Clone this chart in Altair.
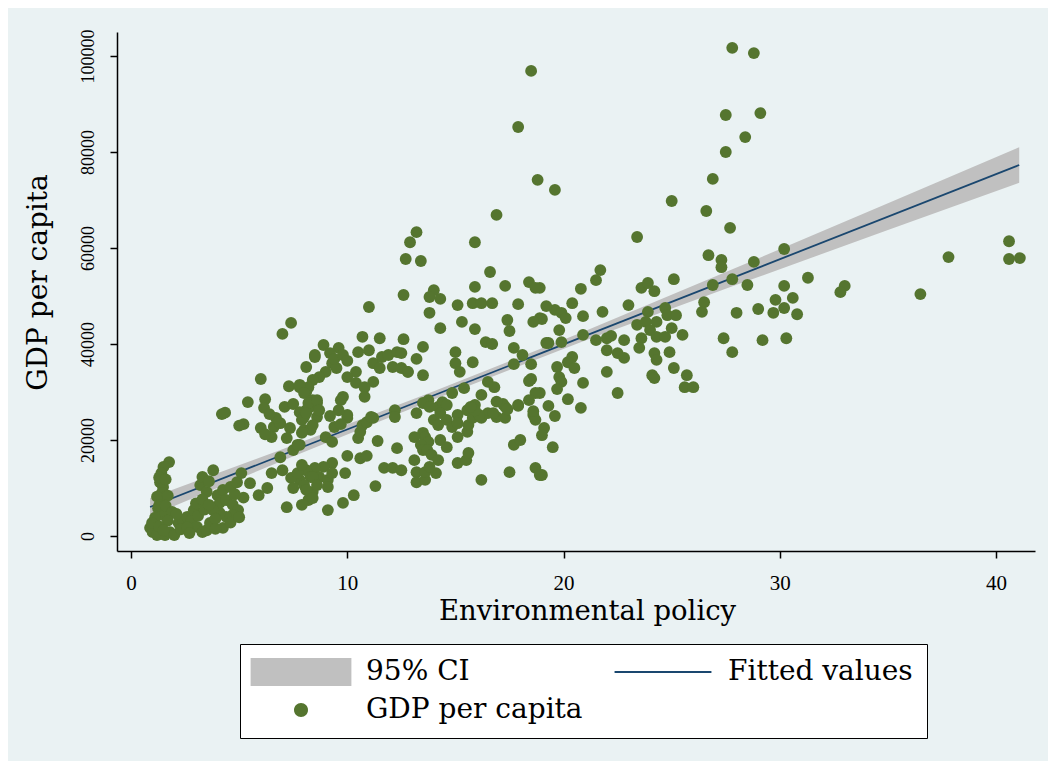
import altair as alt
import pandas as pd

# ---------------- data ----------------
# (environmental policy, GDP per capita)
top_and_right = [
    (27.8, 101700), (28.8, 100600), (18.5, 96900), (17.9, 85200), (27.5, 87700), (29.1, 88100),
    (28.4, 83100), (27.5, 80000), (18.8, 74200), (19.6, 72100), (26.9, 74400), (25.0, 69800),
    (26.6, 67700), (27.7, 64200), (16.9, 66900), (15.9, 61200), (23.4, 62300), (26.7, 58500),
    (27.3, 57500), (27.3, 56000), (28.8, 57100), (30.2, 59800), (13.2, 63300), (12.9, 61200),
    (12.7, 57700), (13.4, 57300), (30.2, 52100), (31.3, 53800), (30.6, 49600), (30.2, 47500),
    (30.8, 46200), (30.3, 41200), (33.0, 52100), (32.8, 50800), (36.5, 50400), (37.8, 58100),
    (40.6, 61400), (40.6, 57700), (41.1, 57900), (25.1, 53500), (26.9, 52300), (27.8, 53500),
    (28.5, 52300), (26.5, 48700), (26.4, 46700), (28.0, 46500), (29.0, 47300), (29.8, 49200),
    (29.7, 46500), (27.4, 41200), (27.8, 38300), (29.2, 40800), (25.5, 41900), (25.7, 33500),
    (25.6, 31000), (26.0, 31000),
]
upper_mid = [
    (16.6, 55000), (21.7, 55400), (21.5, 53300), (20.8, 51500), (20.4, 48500), (18.9, 51700),
    (23.6, 51700), (23.9, 52700), (24.2, 51000), (23.0, 48100), (21.8, 46700), (20.9, 45800),
    (19.6, 47100), (19.9, 46500), (20.1, 45400), (18.9, 45400), (23.9, 46700), (24.7, 47500),
    (24.8, 46000), (25.2, 46000), (23.4, 44000), (23.8, 44600), (24.3, 44600), (24.0, 42900),
    (23.6, 41200), (23.5, 39200), (24.3, 41500), (24.7, 41500), (25.0, 43300), (24.2, 38100),
    (24.3, 36700), (24.9, 38300), (25.1, 35000), (24.1, 33500), (24.2, 32900), (22.5, 29800),
    (19.8, 42900), (19.9, 40400), (19.3, 40200), (20.9, 41900), (21.5, 40800), (22.0, 41200),
    (22.2, 41700), (22.8, 40800), (22.0, 38700), (22.5, 38100), (22.8, 37100), (22.0, 34200),
    (20.4, 37300), (20.2, 36200), (20.5, 35000), (19.7, 35200), (19.8, 33100), (19.9, 32100),
    (19.7, 30600), (20.9, 31900), (20.2, 28500), (20.8, 26700), (19.3, 27100), (19.6, 25000),
    (19.1, 22500), (19.0, 21000), (19.5, 18500), (19.0, 12700), (18.9, 29800),
]
center_band = [
    (11.0, 47700), (12.6, 50200), (15.9, 51900), (17.3, 52100), (18.4, 52900), (18.7, 51700),
    (14.0, 51200), (13.8, 49800), (14.3, 49400), (15.1, 48100), (15.8, 48500), (16.2, 48500),
    (16.7, 48500), (17.9, 48300), (13.8, 46500), (15.3, 44600), (17.4, 45000), (17.5, 42700),
    (19.2, 47900), (19.0, 45200), (18.6, 44600), (14.3, 43300), (15.9, 43100), (16.4, 40400),
    (16.7, 40000), (17.7, 39200), (15.0, 38300), (15.8, 36200), (15.0, 36000), (15.2, 34200),
    (15.4, 30800), (17.7, 35800), (18.1, 37700), (18.5, 35800), (18.5, 32700), (18.4, 32300),
    (19.2, 40200), (18.7, 29800), (17.9, 27300), (16.2, 29400), (16.5, 32100), (16.8, 31000),
    (13.5, 39400), (13.2, 36900), (13.5, 33500), (12.8, 34200), (12.6, 41000), (11.5, 41200),
    (10.7, 41500), (10.5, 38300), (11.0, 38700), (11.2, 36000), (11.6, 37300), (11.9, 37700),
    (12.3, 38300), (12.5, 38100), (11.5, 35000), (12.1, 35200), (12.5, 35000), (12.8, 34200),
    (11.2, 32100), (10.4, 34200), (10.0, 33100), (10.4, 31900), (10.8, 31000), (10.8, 29000),
    (9.8, 29000), (9.7, 28300),
]
left_mid = [
    (7.4, 44400), (7.0, 42100), (8.1, 35200), (8.5, 37300), (6.0, 32700), (7.3, 31200),
    (7.8, 31000), (8.1, 30000), (9.6, 39200), (8.9, 39800), (8.5, 37700), (9.2, 38100),
    (9.3, 36000), (9.5, 35000), (9.0, 34200), (8.7, 33100), (8.4, 32500), (8.2, 31000),
    (7.8, 31500), (8.0, 29800), (8.4, 28300), (8.6, 27700), (8.1, 26200), (5.4, 27900),
    (6.2, 28500), (6.15, 26700), (7.1, 26900), (7.5, 27500), (7.8, 25800), (8.0, 24800),
    (8.3, 26900), (8.2, 27700), (8.6, 28300), (9.4, 36900), (9.8, 37700), (10.0, 36500),
]
left_low = [
    (4.2, 25400), (4.35, 25700), (5.2, 23300), (5.0, 23000), (6.0, 22500), (6.6, 22700),
    (6.9, 23500), (7.35, 22500), (8.0, 22100), (7.9, 24200), (8.1, 25600), (8.6, 24800),
    (8.7, 26200), (8.3, 22100), (7.9, 21500), (7.8, 19000), (8.4, 23100), (9.0, 20600),
    (9.3, 19600), (9.4, 22700), (10.0, 24600), (10.0, 25200), (6.9, 16400), (7.5, 17900),
    (7.7, 19000), (6.5, 20600), (6.2, 21200), (7.2, 20400), (6.7, 24600), (6.4, 25400),
    (9.6, 26200), (9.2, 25000), (9.7, 23300),
]
middle_low = [
    (10.5, 20400), (10.6, 21700), (10.7, 23100), (10.9, 23700), (11.2, 24600), (11.4, 19800),
    (12.2, 26200), (12.2, 24800), (13.2, 25600), (12.3, 18300), (10.0, 16700), (10.6, 16200),
    (10.9, 16700), (11.7, 14200), (12.1, 14200), (12.5, 13700), (9.9, 13100), (11.1, 24800),
    (13.75, 28300), (14.2, 26900), (14.4, 27900), (14.85, 29800), (14.6, 27300), (15.1, 25200),
    (15.55, 26200), (15.9, 27300), (16.2, 24600), (16.5, 25600), (16.9, 24800), (17.3, 24600),
    (17.3, 26900), (16.75, 25600), (13.5, 27700), (13.8, 26900), (14.0, 24200), (14.3, 25600),
    (13.5, 21500), (13.6, 20600), (13.75, 19600), (15.1, 20600), (15.55, 21700), (15.6, 23100),
    (14.2, 23100), (14.6, 24200), (14.85, 22700), (15.1, 23500), (15.8, 24600), (16.1, 25200),
    (15.9, 26200), (15.7, 26900), (13.1, 20600), (13.4, 19000), (13.5, 17900), (13.1, 15800),
    (13.2, 13300), (13.2, 11200), (13.6, 11700), (13.6, 13300), (13.7, 17900), (13.9, 16900),
    (14.2, 15800), (14.1, 13100), (13.8, 14400), (14.3, 20000), (14.6, 18500), (15.1, 15200),
    (15.5, 15800), (15.6, 17300), (16.2, 11700), (17.5, 13300), (18.7, 14200), (18.9, 12700),
    (17.7, 19000), (18.0, 20000), (18.6, 25200), (18.7, 24200), (17.9, 27100), (18.4, 28300),
    (18.6, 26000), (17.2, 27500), (17.4, 26400), (16.9, 28000),
]
low_band = [
    (9.3, 15200), (8.9, 14400), (8.5, 14200), (8.1, 13700), (8.3, 12300), (8.7, 12300),
    (9.1, 11700), (9.3, 13100), (9.1, 10200), (7.8, 11700), (8.0, 10600), (8.4, 9200),
    (8.2, 7500), (9.1, 5400), (9.8, 6900), (10.3, 8500), (11.3, 10400), (6.5, 13100),
    (7.0, 13700), (7.4, 12100), (7.7, 13100), (7.9, 14800), (8.4, 12300), (8.6, 10600),
    (8.1, 9600), (7.5, 10000), (7.2, 6000), (7.9, 6500), (8.4, 7900),
]
origin_cluster = [
    (1.76, 15400), (1.5, 14400), (1.4, 13100), (1.34, 11200), (1.48, 10200), (1.43, 9000),
    (1.48, 7100), (1.25, 5800), (1.57, 5400), (1.43, 4400), (1.11, 3800), (0.88, 1700),
    (1.0, 800), (1.2, 200), (1.57, 200), (1.8, 800), (2.0, 200), (0.97, 2700), (2.2, 2700),
    (2.4, 3300), (2.6, 4000), (2.8, 3300), (3.05, 1900), (3.3, 800), (3.5, 1200), (3.65, 2700),
    (3.2, 10600), (3.3, 12300), (3.8, 13700), (3.5, 9200), (4.0, 8500), (4.25, 9600),
    (4.6, 10200), (4.9, 11200), (5.1, 13100), (4.1, 6900), (4.4, 7500), (4.7, 6500),
    (4.95, 5400), (4.7, 4400), (4.4, 4000), (4.1, 4800), (3.8, 5400), (4.25, 1700),
    (5.5, 11000), (5.9, 8500), (6.3, 10000), (1.3, 12200), (1.6, 11800), (1.2, 8200),
    (1.7, 8400), (1.3, 6400), (1.6, 6300), (1.9, 5000), (2.1, 4600), (1.7, 3200), (1.3, 2000),
    (1.5, 1200), (2.3, 1400), (2.6, 1800), (2.9, 5400), (3.1, 4200), (3.4, 5500), (3.0, 6800),
    (3.3, 7600), (3.6, 6500), (3.9, 3600), (2.7, 600), (3.9, 1500), (4.6, 2800), (5.0, 3900),
    (5.2, 8000), (4.8, 8700), (3.6, 11400),
]

# fitted line and its 95% confidence band
fit_x = [0.88, 41.07]
fit_y = [6040, 77290]
ci_x = [0.88, 7, 14, 21, 28, 35, 41.07]
ci_lo = [4140, 15690, 28450, 40710, 52320, 63740, 73590]
ci_hi = [7940, 18090, 30150, 42710, 55920, 69340, 80990]

# legend entries
series = ["95% CI", "Fitted values", "GDP per capita"]
series_colors = ["#c0c0c0", "#1a476f", "#55752f"]
swatch_paths = [
    "M-3.6,-1H3.6V1H-3.6Z",
    "M-3.46,-0.07H3.46V0.07H-3.46Z",
    "M0.5,0A0.5,0.5 0 1,1 -0.5,0A0.5,0.5 0 1,1 0.5,0Z",
]

x_ticks = [0, 10, 20, 30, 40]
y_ticks = [0, 20000, 40000, 60000, 80000, 100000]

# ---------------- tables ----------------
points = (top_and_right + upper_mid + center_band + left_mid + left_low
          + middle_low + low_band + origin_cluster)
scatter_df = pd.DataFrame(points, columns=["env", "gdp"])
fit_df = pd.DataFrame({"env": fit_x, "gdp": fit_y})
ci_df = pd.DataFrame({"env": ci_x, "lo": ci_lo, "hi": ci_hi})
legend_df = pd.DataFrame({"series": series})

serif = "DejaVu Serif"
tickfont = "Liberation Serif"
nbsp = "\u00a0"

x_axis = alt.Axis(values=x_ticks, grid=False, labelFont=tickfont, labelFontSize=21,
                  labelPadding=14, title="Environmental policy", titleFont=serif,
                  titleFontSize=27.5, titleFontWeight="normal", titleX=470, titleY=60,
                  titleBaseline="middle")
y_axis = alt.Axis(values=y_ticks, grid=True, format="d", labelFont=tickfont,
                  labelFontSize=18, labelAngle=-90, labelAlign="center",
                  labelBaseline="middle", labelPadding=22, title="GDP per capita",
                  titleFont=serif, titleFontSize=28, titleFontWeight="normal",
                  titleAngle=270, titleX=-79, titleY=250, titleBaseline="middle")

x_scale = alt.Scale(domain=[-0.65, 41.8], nice=False, zero=False)
y_scale = alt.Scale(domain=[-3125, 105000], nice=False, zero=False)

X = alt.X("env:Q", scale=x_scale, axis=x_axis)

band = alt.Chart(ci_df).mark_area(color="#c0c0c0", opacity=1).encode(
    x=X,
    y=alt.Y("lo:Q", scale=y_scale, axis=y_axis),
    y2="hi:Q",
)
line = alt.Chart(fit_df).mark_line(color="#1a476f", strokeWidth=1.8).encode(
    x=X,
    y=alt.Y("gdp:Q", scale=y_scale, axis=y_axis),
)
dots = alt.Chart(scatter_df).mark_circle(size=140, color="#55752f", opacity=1).encode(
    x=X,
    y=alt.Y("gdp:Q", scale=y_scale, axis=y_axis),
)

leg = alt.Legend(
    orient="none", legendX=123, legendY=612, direction="horizontal", columns=2,
    symbolSize=784, symbolOffset=33, labelOffset=51, symbolStrokeWidth=0,
    symbolOpacity=1, labelFont=serif, labelFontSize=28, labelColor="black",
    labelLimit=500, columnPadding=31, rowPadding=10, padding=14,
    strokeColor="black", fillColor="white", cornerRadius=0,
    labelExpr=f"datum.label == 'Fitted values' ? datum.label + '{nbsp}{nbsp}' : datum.label",
)
legend_layer = alt.Chart(legend_df).mark_point(filled=True, opacity=0).encode(
    color=alt.Color("series:N", scale=alt.Scale(domain=series, range=series_colors),
                    legend=leg, title=None),
    shape=alt.Shape("series:N", scale=alt.Scale(domain=series, range=swatch_paths),
                    legend=leg, title=None),
)

chart = alt.layer(band, line, dots, legend_layer).properties(
    width=918, height=519,
    padding={"left": 109, "top": 24, "right": 13, "bottom": 210},
    autosize=alt.AutoSizeParams(type="none"),
    background="#eaf2f3",
).configure_view(
    fill="white", strokeOpacity=0,
).configure_axis(
    domainColor="black", tickColor="black", domainWidth=1.5, tickWidth=1.5,
    tickSize=7, labelColor="black", titleColor="black",
    gridColor="#eaf2f3", gridWidth=2,
)

chart.save("out.html", embed_options={"renderer": "svg", "actions": False})
